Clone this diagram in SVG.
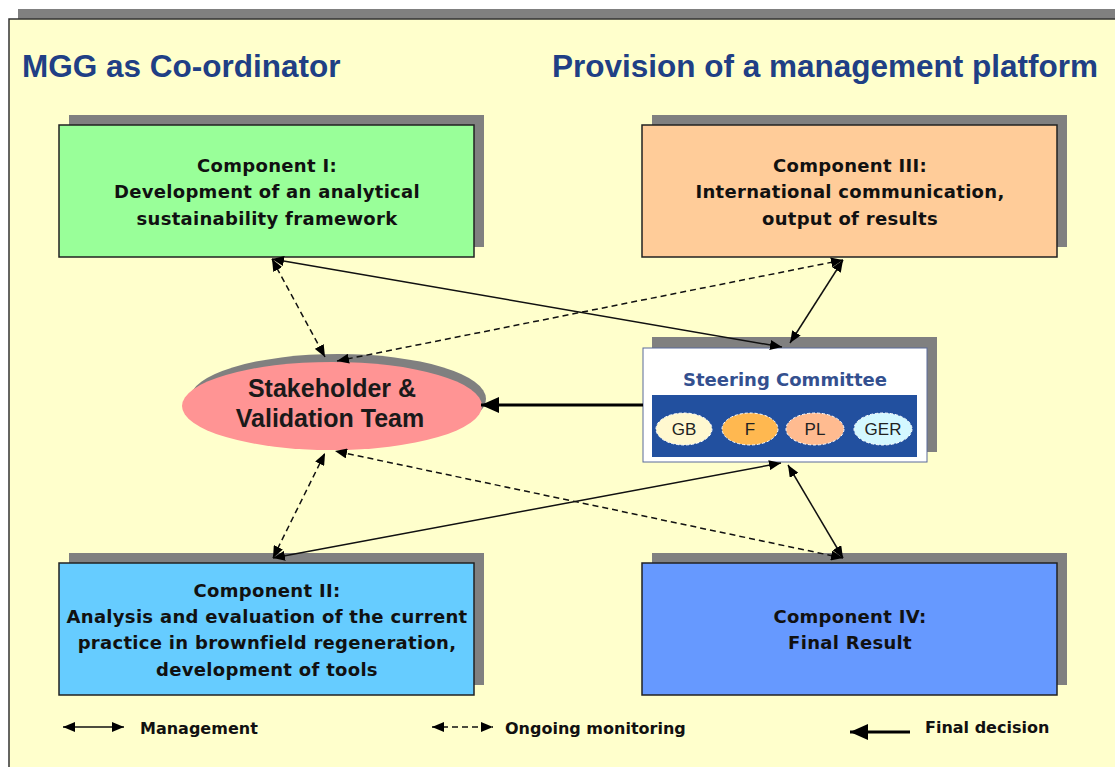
<svg xmlns="http://www.w3.org/2000/svg" width="1115" height="767" viewBox="0 0 1115 767">
<style>
.shadow{fill:#808080}
.box{stroke:#222;stroke-width:1.5}
.ct{font-family:"DejaVu Sans",Verdana,sans-serif;font-weight:bold;font-size:18px;fill:#111;text-anchor:middle;letter-spacing:0.3px}
.title{font-family:"Liberation Sans",Arial,sans-serif;font-weight:bold;font-size:31.5px;fill:#203F85}
.lg{font-family:"DejaVu Sans",Verdana,sans-serif;font-weight:bold;font-size:16px;fill:#111}
.cty{font-family:"Liberation Sans",Arial,sans-serif;font-size:17px;fill:#222;text-anchor:middle}
.conn{stroke:#111;stroke-width:1.5;fill:none;marker-start:url(#ah);marker-end:url(#ah)}
.dash{stroke-dasharray:6 4}
</style>
<defs>
<marker id="ah" markerUnits="userSpaceOnUse" markerWidth="12" markerHeight="10" viewBox="0 0 12 10" refX="12" refY="5" orient="auto-start-reverse">
<path d="M0,0 L12,5 L0,10 z" fill="#000"/>
</marker>
<marker id="ahb" markerUnits="userSpaceOnUse" markerWidth="18" markerHeight="16" viewBox="0 0 18 16" refX="18" refY="8" orient="auto">
<path d="M0,0 L18,8 L0,16 z" fill="#000"/>
</marker>
</defs>
<rect x="0" y="0" width="1115" height="767" fill="#ffffff"/>
<rect x="18" y="9" width="1100" height="10" fill="#808080"/>
<rect x="9" y="19" width="1120" height="760" fill="#FFFFCC" stroke="#333" stroke-width="1.5"/>
<g id="titles">
<text class="title" x="22" y="77">MGG as Co-ordinator</text>
<text class="title" x="552" y="77">Provision of a management platform</text>
</g>
<g id="comp1">
<rect class="shadow" x="69" y="115" width="415" height="132"/>
<rect class="box" x="59" y="125" width="415" height="132" fill="#99FF99"/>
<text class="ct" x="267" y="172">Component I:</text>
<text class="ct" x="267" y="198">Development of an analytical</text>
<text class="ct" x="267" y="225">sustainability framework</text>
</g>
<g id="comp3">
<rect class="shadow" x="652" y="115" width="415" height="132"/>
<rect class="box" x="642" y="125" width="415" height="132" fill="#FFCC99"/>
<text class="ct" x="850" y="172">Component III:</text>
<text class="ct" x="850" y="198">International communication,</text>
<text class="ct" x="850" y="225">output of results</text>
</g>
<g id="comp2">
<rect class="shadow" x="69" y="553" width="415" height="132"/>
<rect class="box" x="59" y="563" width="415" height="132" fill="#66CCFF"/>
<text class="ct" x="267" y="597">Component II:</text>
<text class="ct" x="267" y="623">Analysis and evaluation of the current</text>
<text class="ct" x="267" y="649">practice in brownfield regeneration,</text>
<text class="ct" x="267" y="676">development of tools</text>
</g>
<g id="comp4">
<rect class="shadow" x="652" y="553" width="415" height="132"/>
<rect class="box" x="642" y="563" width="415" height="132" fill="#6699FF"/>
<text class="ct" x="850" y="623">Component IV:</text>
<text class="ct" x="850" y="649">Final Result</text>
</g>
<g id="stakeholder">
<ellipse cx="338" cy="399" rx="148" ry="45" fill="#808080"/>
<ellipse cx="332" cy="406" rx="150" ry="44" fill="#FF9494"/>
<text x="332" y="397" text-anchor="middle" font-family="Liberation Sans, Arial, sans-serif" font-weight="bold" font-size="25" fill="#1a1a1a">Stakeholder &amp;</text>
<text x="330" y="427" text-anchor="middle" font-family="Liberation Sans, Arial, sans-serif" font-weight="bold" font-size="25" fill="#1a1a1a">Validation Team</text>
</g>
<g id="steering">
<rect class="shadow" x="652" y="337" width="285" height="115"/>
<rect x="643" y="348" width="284" height="114" fill="#ffffff" stroke="#5a6a9a" stroke-width="1"/>
<text x="785" y="386" text-anchor="middle" font-family="DejaVu Sans, Verdana, sans-serif" font-weight="bold" font-size="18" fill="#34508F">Steering Committee</text>
<rect x="652" y="395" width="265" height="62" fill="#22509F"/>
<ellipse cx="684" cy="429" rx="28" ry="16" fill="#FFF8D0" stroke="#ffffff" stroke-dasharray="3 2"/>
<ellipse cx="750" cy="429" rx="28" ry="16" fill="#FFB850" stroke="#ffffff" stroke-dasharray="3 2"/>
<ellipse cx="815" cy="429" rx="29" ry="16" fill="#FFBB90" stroke="#ffffff" stroke-dasharray="3 2"/>
<ellipse cx="883" cy="429" rx="29" ry="16" fill="#D4F8FF" stroke="#ffffff" stroke-dasharray="3 2"/>
<text class="cty" x="684" y="435">GB</text>
<text class="cty" x="750" y="435">F</text>
<text class="cty" x="815" y="435">PL</text>
<text class="cty" x="883" y="435">GER</text>
</g>
<g id="connectors">
<line class="conn" x1="272" y1="259" x2="782" y2="347"/>
<line class="conn dash" x1="272" y1="259" x2="325" y2="357"/>
<line class="conn dash" x1="843" y1="260" x2="337" y2="361"/>
<line class="conn" x1="843" y1="260" x2="790" y2="343"/>
<line class="conn dash" x1="273" y1="558" x2="325" y2="453"/>
<line class="conn" x1="273" y1="558" x2="781" y2="463"/>
<line class="conn dash" x1="843" y1="558" x2="335" y2="451"/>
<line class="conn" x1="843" y1="558" x2="788" y2="465"/>
<line x1="643" y1="405" x2="481" y2="405" stroke="#000" stroke-width="3" marker-end="url(#ahb)"/>
</g>
<g id="legend">
<line class="conn" x1="63" y1="727" x2="124" y2="727"/>
<text class="lg" x="140" y="734">Management</text>
<line class="conn dash" x1="432" y1="727" x2="493" y2="727"/>
<text class="lg" x="505" y="734">Ongoing monitoring</text>
<line x1="910" y1="732" x2="850" y2="732" stroke="#000" stroke-width="3" marker-end="url(#ahb)"/>
<text class="lg" x="925" y="733">Final decision</text>
</g>
</svg>
